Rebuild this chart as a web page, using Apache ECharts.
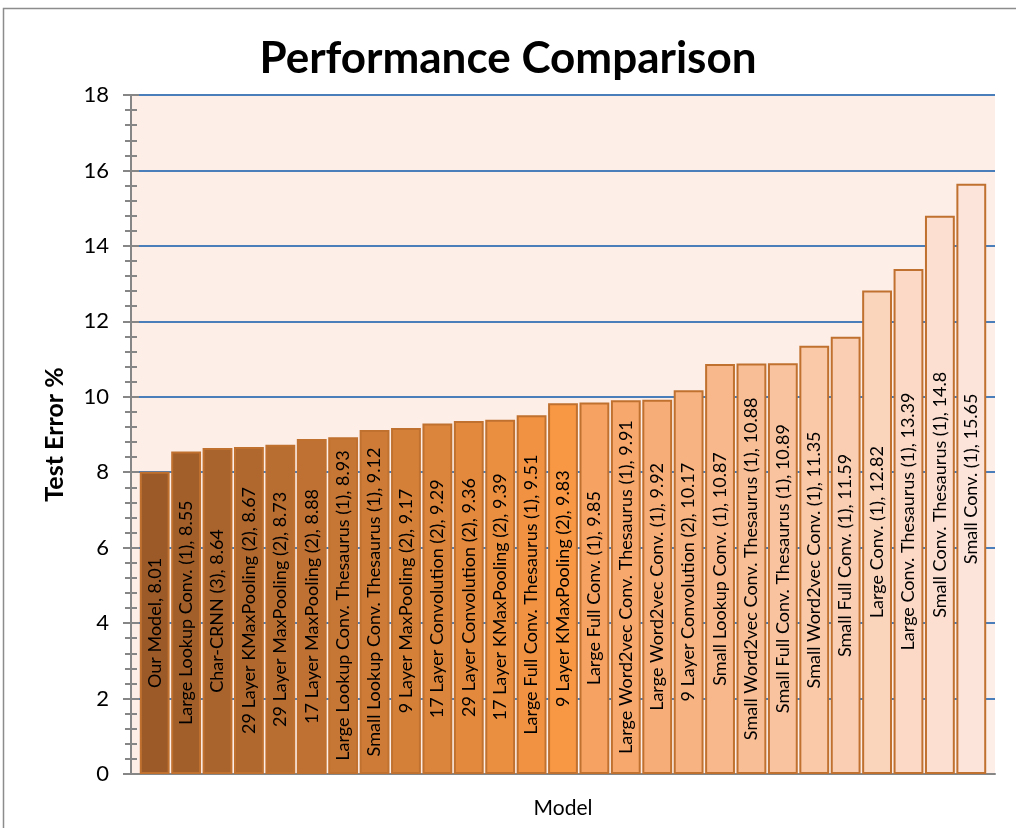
<!DOCTYPE html>
<html>
<head>
<meta charset="utf-8">
<script src="https://cdn.jsdelivr.net/npm/echarts@6/dist/echarts.min.js"></script>
<style>
    html, body { margin: 0; padding: 0; background: #fff; }
    #main { width: 1016px; height: 828px; }
</style>
</head>
<body>
<div id="main"></div>
<script>
// models, sorted by error
let models = [
    'Our Model', 'Large Lookup Conv. (1)', 'Char-CRNN (3)', '29 Layer KMaxPooling (2)',
    '29 Layer MaxPooling (2)', '17 Layer MaxPooling (2)', 'Large Lookup Conv. Thesaurus (1)',
    'Small Lookup Conv. Thesaurus (1)', '9 Layer MaxPooling (2)', '17 Layer Convolution (2)',
    '29 Layer Convolution (2)', '17 Layer KMaxPooling (2)', 'Large Full Conv. Thesaurus (1)',
    '9 Layer KMaxPooling (2)', 'Large Full Conv. (1)', 'Large Word2vec Conv. Thesaurus (1)',
    'Large Word2vec Conv. (1)', '9 Layer Convolution (2)', 'Small Lookup Conv. (1)',
    'Small Word2vec Conv. Thesaurus (1)', 'Small Full Conv. Thesaurus (1)',
    'Small Word2vec Conv. (1)', 'Small Full Conv. (1)', 'Large Conv. (1)',
    'Large Conv. Thesaurus (1)', 'Small Conv. Thesaurus (1)', 'Small Conv. (1)'
];
let testError = [
    8.01, 8.55, 8.64, 8.67, 8.73, 8.88, 8.93, 9.12, 9.17, 9.29, 9.36, 9.39, 9.51, 9.83,
    9.85, 9.91, 9.92, 10.17, 10.87, 10.88, 10.89, 11.35, 11.59, 12.82, 13.39, 14.8, 15.65
];
let yTicks = [0, 2, 4, 6, 8, 10, 12, 14, 16, 18];

// fill shades: dark brown -> orange (peak) -> light peach
function mix(a, b, t) {
    let pa = [1, 3, 5].map(i => parseInt(a.substr(i, 2), 16));
    let pb = [1, 3, 5].map(i => parseInt(b.substr(i, 2), 16));
    return 'rgb(' + pa.map((v, i) => Math.round(v + (pb[i] - v) * t)).join(',') + ')';
}
let peak = 13;
let colors = testError.map((v, i) => i <= peak
    ? mix('#9b5a28', '#f89744', i / peak)
    : mix('#f5a263', '#fde4da', (i - peak - 1) / (testError.length - peak - 2)));

let font = 'Lato, "Open Sans", sans-serif';
let myChart = echarts.init(document.getElementById('main'));

let tickStyle = { color: '#868686', width: 2 };

let option = {
    backgroundColor: '#ffffff',
    animation: false,
    title: {
        text: 'Performance Comparison',
        left: 'center',
        top: 32,
        textStyle: { fontFamily: font, fontSize: 44, fontWeight: 'bold', color: '#000' }
    },
    graphic: [{
        type: 'rect',
        shape: { x: 3.5, y: 8.5, width: 1030, height: 840 },
        style: { fill: null, stroke: '#8c8c8c', lineWidth: 1.5 },
        silent: true
    }],
    grid: [
        { left: 131, right: 21, top: 95, bottom: 54, show: true, backgroundColor: '#fdeee8', borderWidth: 0 },
        { left: 139, right: 29, top: 95, bottom: 54 }
    ],
    xAxis: [
        {
            gridIndex: 0, type: 'value', min: 0, max: 1,
            name: 'Model', nameLocation: 'middle', nameGap: 24,
            nameTextStyle: { fontFamily: font, fontSize: 21, color: '#000' },
            axisLine: { show: true, lineStyle: tickStyle },
            axisTick: { show: false }, axisLabel: { show: false }, splitLine: { show: false }
        },
        {
            gridIndex: 1, type: 'category', data: models,
            axisLine: { show: false }, axisTick: { show: false }, axisLabel: { show: false }
        }
    ],
    yAxis: [
        {
            gridIndex: 0, type: 'value', position: 'left', min: 0, max: 18, interval: 2,
            name: 'Test Error %', nameLocation: 'middle', nameGap: 64,
            nameTextStyle: { fontFamily: font, fontSize: 25, fontWeight: 'bold', color: '#000' },
            axisLine: { show: true, lineStyle: tickStyle },
            axisTick: { show: true, length: 8, lineStyle: tickStyle },
            minorTick: { show: true, splitNumber: 5, length: 6, lineStyle: tickStyle },
            axisLabel: {
                margin: 22, fontFamily: font, fontSize: 22, color: '#000',
                customValues: yTicks
            },
            splitLine: { show: true, lineStyle: { color: '#4a7ebb', width: 2 } }
        },
        {
            // mirror axis so the ticks cross into the plot
            gridIndex: 0, type: 'value', position: 'left', offset: 0, min: 0, max: 18, interval: 2,
            axisLine: { show: false },
            axisTick: { show: true, inside: true, length: 8, lineStyle: tickStyle },
            minorTick: { show: true, splitNumber: 5, length: 6, lineStyle: tickStyle },
            axisLabel: { show: false }, splitLine: { show: false }
        },
        {
            gridIndex: 1, type: 'value', min: 0, max: 18, interval: 2, show: false
        }
    ],
    series: [{
        type: 'bar',
        xAxisIndex: 1,
        yAxisIndex: 2,
        barCategoryGap: '5%',
        data: testError.map((v, i) => ({
            value: v,
            itemStyle: { color: colors[i], borderColor: '#c0712f', borderWidth: 2 }
        })),
        label: {
            show: true,
            position: 'inside',
            rotate: 90,
            fontFamily: font,
            fontSize: 18,
            color: '#000',
            formatter: (p) => p.name + ', ' + p.value
        }
    }]
};
myChart.setOption(option);
</script>
</body>
</html>
